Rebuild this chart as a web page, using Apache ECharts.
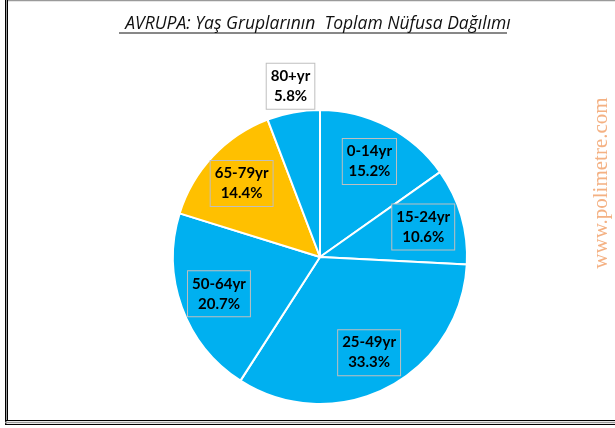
<!DOCTYPE html>
<html>
<head>
<meta charset="utf-8">
<script src="https://cdn.jsdelivr.net/npm/echarts@6/dist/echarts.min.js"></script>
<style>
  html, body { margin: 0; padding: 0; background: #fff; }
  #pie { width: 615px; height: 428px; }
</style>
</head>
<body>
<div id="pie"></div>
<script>
// yaş grupları ve paylar (%)
const categories = ['0-14yr', '15-24yr', '25-49yr', '50-64yr', '65-79yr', '80+yr']
const shares = [15.2, 10.6, 33.3, 20.7, 14.4, 5.8]
const sliceColors = ['#00B0F0', '#00B0F0', '#00B0F0', '#00B0F0', '#FFC000', '#00B0F0']

const chart = echarts.init(document.getElementById('pie'))

const pieData = categories.map((name, i) => ({
  name: name,
  value: shares[i],
  itemStyle: { color: sliceColors[i] }
}))

// etiket serisi: görünmez dilimler, etiketler kutulu
const labelData = categories.map((name, i) => {
  const item = {
    name: name,
    value: shares[i],
    label: { backgroundColor: sliceColors[i] }
  }
  if (i === categories.length - 1) {
    // 80+ etiketi dilimin dışında, beyaz kutu
    item.label = { backgroundColor: '#fff', offset: [-10, -65] }
  }
  return item
})

const option = {
  animation: false,
  title: {
    text: 'AVRUPA: Yaş Gruplarının  Toplam Nüfusa Dağılımı',
    left: 313,
    textAlign: 'center',
    top: 10,
    textStyle: {
      fontFamily: 'Open Sans',
      fontStyle: 'italic',
      fontWeight: 'normal',
      fontSize: 17.5,
      color: '#111'
    }
  },
  graphic: [
    // başlık alt çizgisi
    { type: 'line', shape: { x1: 119, y1: 33, x2: 507, y2: 33 }, style: { stroke: '#111', lineWidth: 1 } },
    // çerçeve
    { type: 'line', shape: { x1: 7, y1: 0.5, x2: 615, y2: 0.5 }, style: { stroke: '#9a9a9a', lineWidth: 1.5 } },
    { type: 'line', shape: { x1: 5.5, y1: 0, x2: 5.5, y2: 425 }, style: { stroke: '#000', lineWidth: 1 } },
    { type: 'line', shape: { x1: 6.5, y1: 0, x2: 6.5, y2: 425 }, style: { stroke: '#9a9a9a', lineWidth: 1 } },
    { type: 'line', shape: { x1: 7.5, y1: 0, x2: 7.5, y2: 421 }, style: { stroke: '#000', lineWidth: 1 } },
    { type: 'line', shape: { x1: 5, y1: 420.5, x2: 615, y2: 420.5 }, style: { stroke: '#000', lineWidth: 1 } },
    { type: 'line', shape: { x1: 5, y1: 422.5, x2: 615, y2: 422.5 }, style: { stroke: '#9a9a9a', lineWidth: 1.5 } },
    { type: 'line', shape: { x1: 5, y1: 424.5, x2: 615, y2: 424.5 }, style: { stroke: '#000', lineWidth: 1 } },
    // filigran
    {
      type: 'text',
      x: 601,
      y: 183,
      rotation: Math.PI / 2,
      style: {
        text: 'www.polimetre.com',
        fontFamily: 'Liberation Serif',
        fontSize: 21,
        fill: '#F4B183',
        align: 'center',
        verticalAlign: 'middle'
      }
    }
  ],
  series: [
    {
      type: 'pie',
      center: [320, 257],
      radius: [0, 147],
      startAngle: 90,
      clockwise: true,
      silent: true,
      itemStyle: { borderColor: '#fff', borderWidth: 2 },
      label: { show: false },
      labelLine: { show: false },
      data: pieData
    },
    {
      type: 'pie',
      center: [320, 257],
      radius: [62, 147],
      startAngle: 90,
      clockwise: true,
      silent: true,
      itemStyle: { color: 'rgba(0,0,0,0)', borderWidth: 0 },
      labelLine: { show: false },
      label: {
        show: true,
        position: 'inside',
        formatter: '{b}\n{c}%',
        fontFamily: 'Lato',
        fontWeight: 'bold',
        fontSize: 15,
        lineHeight: 20,
        color: '#000',
        borderColor: '#bfbfbf',
        borderWidth: 1,
        padding: [3, 4, 2, 4]
      },
      data: labelData
    }
  ]
}

chart.setOption(option)
</script>
</body>
</html>
